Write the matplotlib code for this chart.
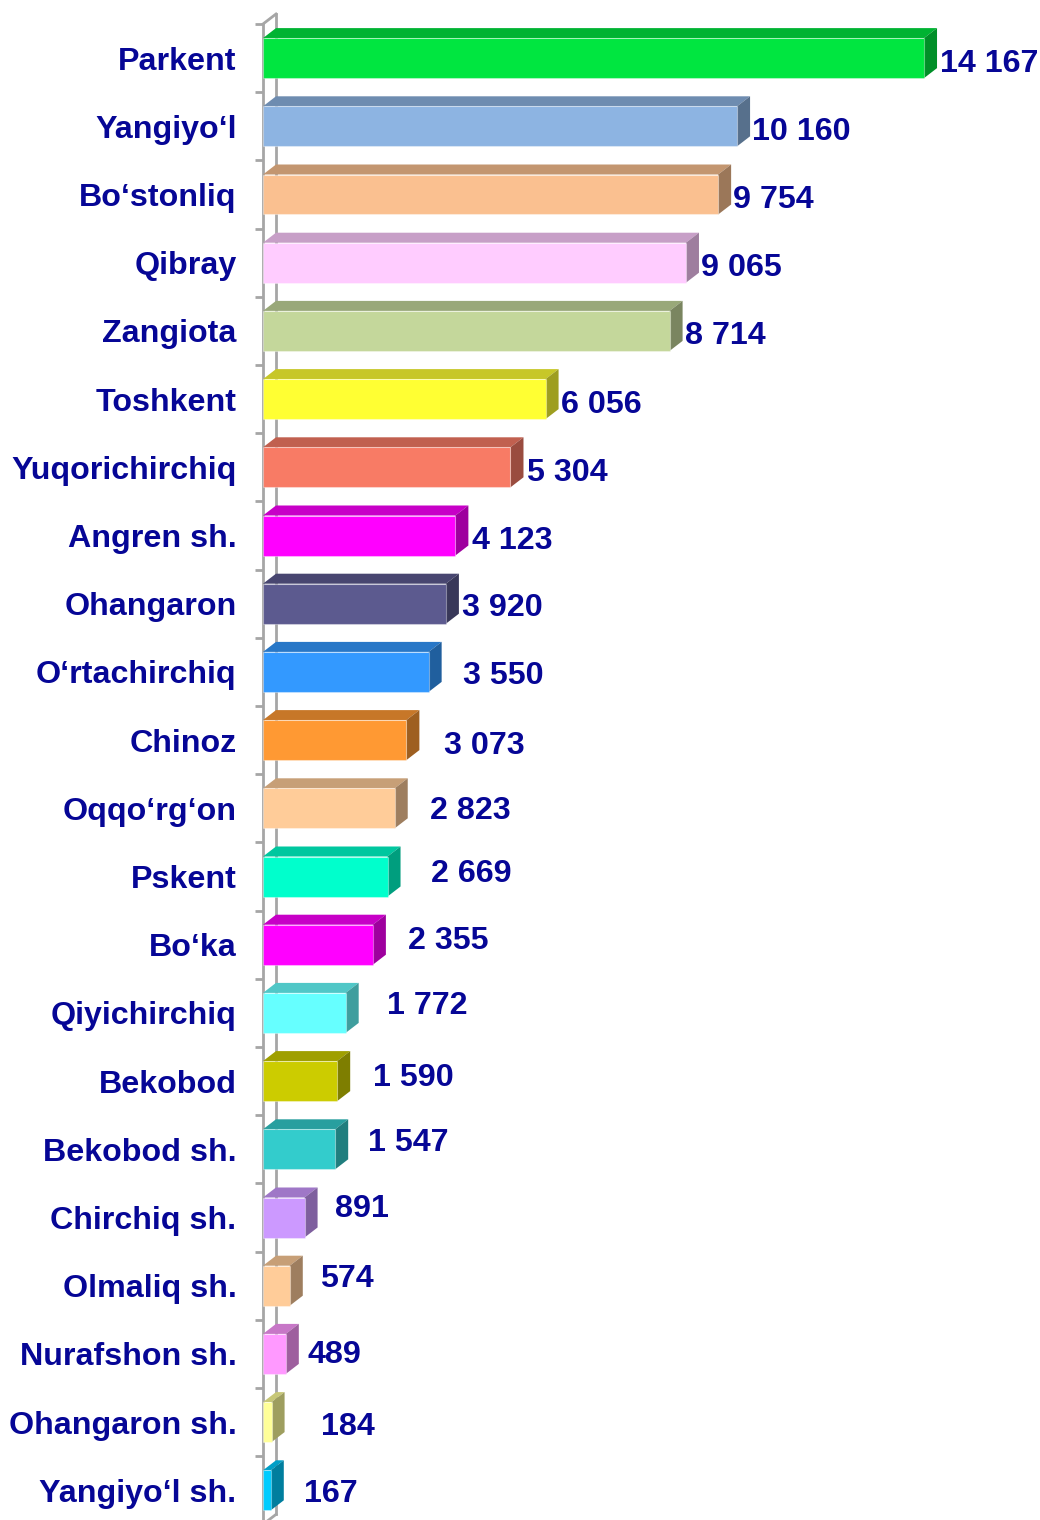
import numpy as np
import matplotlib
matplotlib.use("Agg")
import matplotlib.pyplot as plt
from matplotlib.patches import Polygon
from matplotlib.colors import to_rgb

# === Données ===
districts = ["Parkent", "Yangiyo‘l", "Bo‘stonliq", "Qibray", "Zangiota", "Toshkent",
             "Yuqorichirchiq", "Angren sh.", "Ohangaron", "O‘rtachirchiq", "Chinoz",
             "Oqqo‘rg‘on", "Pskent", "Bo‘ka", "Qiyichirchiq", "Bekobod", "Bekobod sh.",
             "Chirchiq sh.", "Olmaliq sh.", "Nurafshon sh.", "Ohangaron sh.", "Yangiyo‘l sh."]
values = [14167, 10160, 9754, 9065, 8714, 6056, 5304, 4123, 3920, 3550, 3073,
          2823, 2669, 2355, 1772, 1590, 1547, 891, 574, 489, 184, 167]

# couleurs des faces avant
colors = ["#00E640", "#8DB4E2", "#FAC090", "#FFCCFF", "#C4D79B", "#FFFF33",
          "#F87B65", "#FF00FF", "#5C5A8F", "#3399FF", "#FF9933", "#FFCC99",
          "#00FFCC", "#FF00FF", "#66FFFF", "#CCCC00", "#33CCCC", "#CC99FF",
          "#FFCC99", "#FF99FF", "#FFFF99", "#00CCFF"]

# décalage des étiquettes de valeur (pixels)
lbl_dx = [3, 2, 2, 2, 2, 2, 4, 4, 3, 21, 25, 22, 30, 22, 28, 23, 20, 17, 17, 9, 36, 20]
lbl_dy = [2, 2, 2, 2, 2, 2, 2, 2, 1, 1, 2, -1, -6, -7, -10, -7, -10, -12, -10, -2, 1, 0]

navy = "#060696"
grey = "#A6A6A6"
fs = 23.2
plt.rcParams['font.family'] = ['Liberation Sans', 'DejaVu Sans']

W, H = 1040, 1520
fig = plt.figure(figsize=(W / 100, H / 100), dpi=100)

x0 = 263            # bord gauche de l'axe (px)
px_per_unit = 0.04666
row_px = 68.2
top_px = 24         # limite haute de la première ligne
n = len(values)
ax_w = W - x0
ax_h = row_px * n
ax = fig.add_axes([x0 / W, (H - top_px - ax_h) / H, ax_w / W, ax_h / H])
ax.set_xlim(0, ax_w / px_per_unit)
ax.set_ylim(n - 0.5, -0.5)

# profondeur 3D en unités de données
dx = 13 / px_per_unit
dy = 10 / row_px
bh = 40 / row_px

def shade(c, f):
    r, g, b = to_rgb(c)
    return (r * f, g * f, b * f)

y = np.arange(n)

# paroi (mur gauche)
ax.plot([dx, dx], [-0.5 - dy, n - 0.5 - dy], color=grey, lw=2, zorder=1, clip_on=False)
ax.plot([0, dx], [-0.5, -0.5 - dy], color=grey, lw=2, zorder=1, clip_on=False)
ax.plot([0, dx], [n - 0.5, n - 0.5 - dy], color=grey, lw=2, zorder=1, clip_on=False)

for i, (v, c) in enumerate(zip(values, colors)):
    yt = i - bh / 2
    yb = i + bh / 2
    top = Polygon([(0, yt), (v, yt), (v + dx, yt - dy), (dx, yt - dy)], closed=True,
                  facecolor=shade(c, 0.78), edgecolor='none', zorder=3)
    side = Polygon([(v, yt), (v + dx, yt - dy), (v + dx, yb - dy), (v, yb)], closed=True,
                   facecolor=shade(c, 0.62), edgecolor='none', zorder=3)
    ax.add_patch(top)
    ax.add_patch(side)

ax.barh(y, values, height=bh, color=colors, edgecolor=(1, 1, 1, 0.35), linewidth=0.8, zorder=4)

for i, v in enumerate(values):
    ax.annotate(f"{v:,}".replace(",", " "), xy=(v + dx, i),
                xytext=(lbl_dx[i] * 0.72, -lbl_dy[i] * 0.72), textcoords='offset points',
                ha='left', va='center_baseline', fontsize=fs, fontweight='bold',
                color=navy, annotation_clip=False, zorder=5)

# axes
for s in ['top', 'right', 'bottom']:
    ax.spines[s].set_visible(False)
ax.spines['left'].set_color(grey)
ax.spines['left'].set_linewidth(2)
ax.spines['left'].set_zorder(1)
ax.set_xticks([])
ax.set_yticks(y)
ax.set_yticklabels(districts, fontsize=fs, fontweight='bold', color=navy)
ax.tick_params(axis='y', which='major', length=0, pad=19)
ax.set_yticks(np.arange(n + 1) - 0.5, minor=True)
ax.tick_params(axis='y', which='minor', length=6, width=2, color=grey)
ax.patch.set_alpha(0)

fig.savefig("out.png", dpi=100)
